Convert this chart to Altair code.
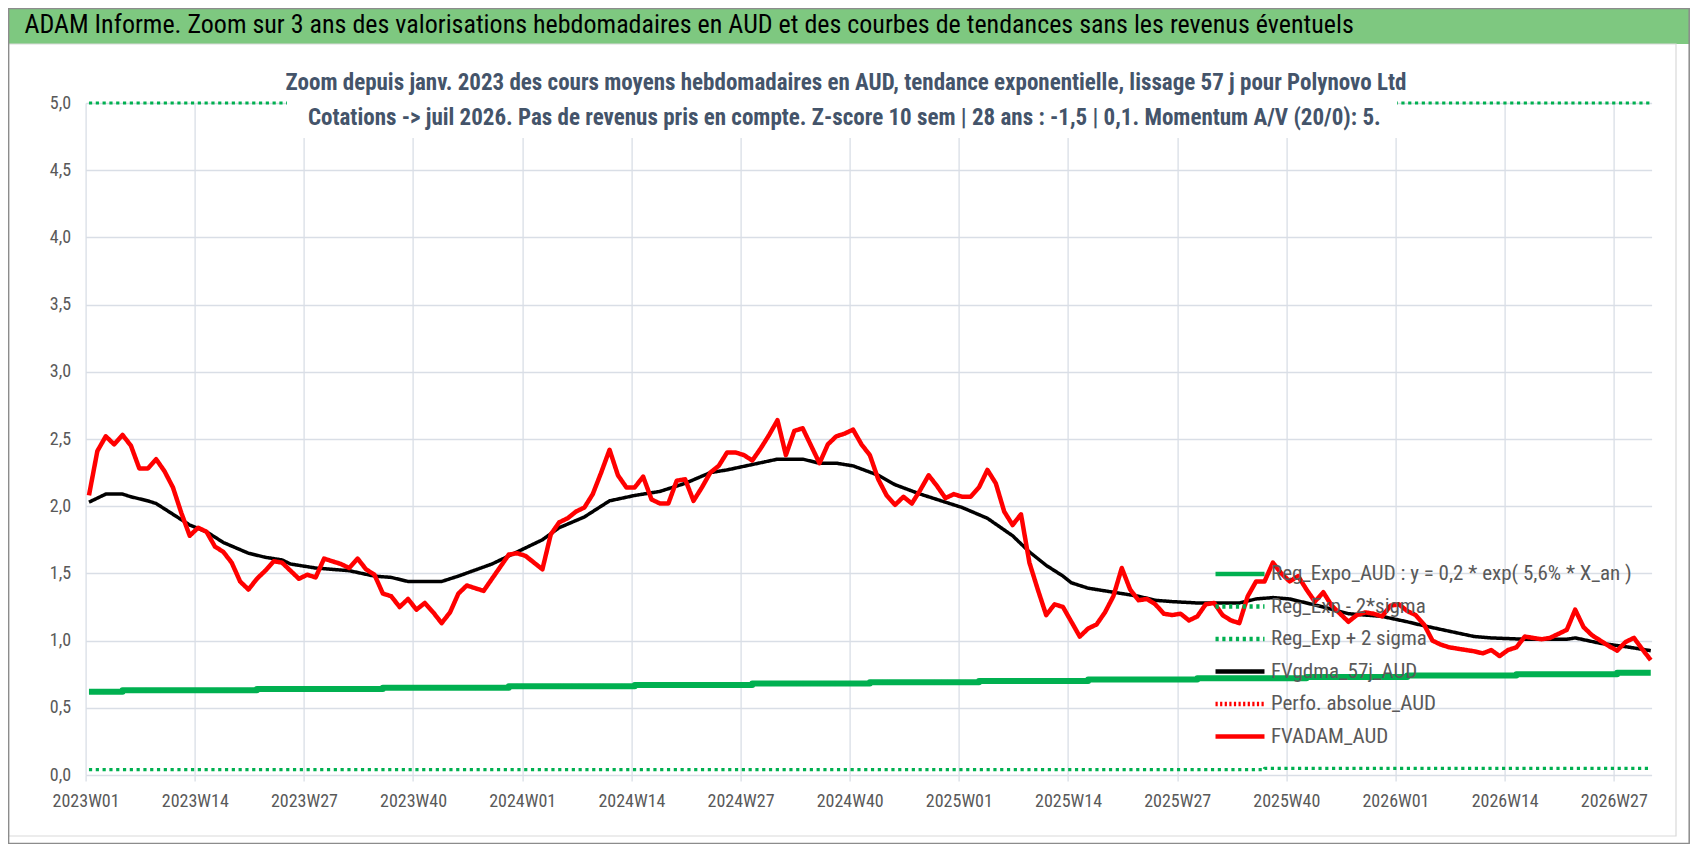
import json
import altair as alt
import pandas as pd

FONT = "Liberation Sans Narrow, Roboto Condensed, Arial Narrow, Roboto"

TITLE = "ADAM Informe. Zoom sur 3 ans des valorisations hebdomadaires en AUD et des courbes de tendances sans les revenus éventuels"
SUB1 = "Zoom depuis janv. 2023 des cours moyens hebdomadaires en AUD, tendance exponentielle, lissage 57 j pour Polynovo Ltd"
SUB2 = "Cotations -> juil 2026. Pas de revenus pris en compte. Z-score 10 sem | 28 ans : -1,5 | 0,1. Momentum A/V (20/0): 5."

tick_labels = ["2023W01", "2023W14", "2023W27", "2023W40", "2024W01", "2024W14", "2024W27",
               "2024W40", "2025W01", "2025W14", "2025W27", "2025W40", "2026W01", "2026W14", "2026W27"]
tick_index = [0, 13, 26, 39, 52, 65, 78, 91, 104, 117, 130, 143, 156, 169, 182]

series_names = ["Reg_Expo_AUD : y = 0,2 * exp( 5,6% *  X_an )", "Reg_Exp - 2*sigma", "Reg_Exp + 2 sigma",
                "FVgdma_57j_AUD", "Perfo. absolue_AUD", "FVADAM_AUD"]
series_colors = ["#00B050", "#00B050", "#00B050", "#000000", "#FF0000", "#FF0000"]
series_dash = [[1, 0], [3.2, 3.6], [3.2, 3.6], [1, 0], [2.2, 2.4], [1, 0]]

# FVADAM_AUD weekly values (week index 0 = 2023W01)
fvadam = [
    2.08, 2.41, 2.52, 2.46, 2.53, 2.45, 2.28, 2.28, 2.35, 2.26,
    2.14, 1.95, 1.78, 1.84, 1.81, 1.70, 1.66, 1.58, 1.44, 1.38,
    1.46, 1.52, 1.59, 1.58, 1.52, 1.46, 1.49, 1.47, 1.61, 1.59,
    1.57, 1.54, 1.61, 1.53, 1.49, 1.35, 1.33, 1.25, 1.31, 1.23,
    1.28, 1.21, 1.13, 1.21, 1.35, 1.41, 1.39, 1.37, 1.46, 1.55,
    1.64, 1.65, 1.63, 1.58, 1.53, 1.79, 1.88, 1.91, 1.96, 1.99,
    2.09, 2.25, 2.42, 2.23, 2.14, 2.14, 2.22, 2.05, 2.02, 2.02,
    2.19, 2.20, 2.04, 2.14, 2.25, 2.30, 2.40, 2.40, 2.38, 2.34,
    2.43, 2.53, 2.64, 2.38, 2.56, 2.58, 2.45, 2.32, 2.46, 2.52,
    2.54, 2.57, 2.46, 2.38, 2.20, 2.08, 2.01, 2.07, 2.02, 2.12,
    2.23, 2.15, 2.06, 2.09, 2.07, 2.07, 2.14, 2.27, 2.17, 1.96,
    1.86, 1.94, 1.58, 1.38, 1.19, 1.27, 1.25, 1.14, 1.03, 1.09,
    1.12, 1.21, 1.33, 1.54, 1.38, 1.30, 1.31, 1.27, 1.20, 1.19,
    1.20, 1.15, 1.18, 1.27, 1.28, 1.19, 1.15, 1.13, 1.33, 1.44,
    1.44, 1.58, 1.50, 1.44, 1.48, 1.38, 1.29, 1.36, 1.26, 1.20,
    1.14, 1.19, 1.21, 1.20, 1.18, 1.26, 1.27, 1.22, 1.19, 1.12,
    1.00, 0.97, 0.95, 0.94, 0.93, 0.92, 0.905, 0.93, 0.885, 0.93,
    0.95, 1.03, 1.02, 1.01, 1.02, 1.05, 1.08, 1.23, 1.10, 1.04,
    1.00, 0.96, 0.925, 0.99, 1.02, 0.935, 0.855,
]

# FVgdma_57j_AUD (smoothed), read at knots
gdma_idx = [0, 2, 4, 5, 7, 8, 10, 12, 14, 16, 19, 21, 23, 24, 27, 31, 34, 36, 38, 42,
            44, 48, 51, 54, 56, 59, 62, 65, 68, 71, 74, 76, 79, 82, 85, 87, 89, 91, 94, 96,
            99, 102, 104, 107, 110, 112, 114, 116, 117, 119, 120, 122, 123, 125, 127, 129, 132, 134, 137, 139,
            141, 143, 145, 147, 150, 154, 157, 159, 162, 165, 167, 171, 176, 177, 180, 183, 186]
gdma_val = [2.03, 2.09, 2.09, 2.07, 2.04, 2.02, 1.94, 1.86, 1.81, 1.73, 1.65, 1.62, 1.60, 1.57, 1.54, 1.52, 1.48, 1.47, 1.44, 1.44,
            1.48, 1.57, 1.66, 1.75, 1.84, 1.92, 2.04, 2.08, 2.11, 2.17, 2.25, 2.27, 2.31, 2.35, 2.35, 2.32, 2.32, 2.30, 2.23, 2.16,
            2.09, 2.03, 1.99, 1.91, 1.78, 1.66, 1.56, 1.48, 1.43, 1.39, 1.38, 1.36, 1.35, 1.33, 1.30, 1.29, 1.28, 1.28, 1.28, 1.31,
            1.32, 1.31, 1.28, 1.25, 1.20, 1.18, 1.14, 1.11, 1.07, 1.03, 1.02, 1.01, 1.01, 1.02, 0.98, 0.955, 0.925]

# Reg_Expo_AUD (rounded values, stepped)
reg_idx = [0, 4, 20, 35, 50, 65, 79, 93, 106, 119, 132, 145, 157, 170, 182, 186]
reg_val = [0.62, 0.63, 0.64, 0.65, 0.66, 0.67, 0.68, 0.69, 0.70, 0.71, 0.72, 0.73, 0.74, 0.75, 0.76, 0.76]

# Reg_Exp -/+ 2 sigma
low_idx = [0, 140, 186]
low_val = [0.04, 0.05, 0.05]
up_idx = [0, 186]
up_val = [5.0, 5.0]

GRID = "#D9DEE6"
LABEL = "#595959"

x_enc = alt.X(
    "i:Q",
    scale=alt.Scale(domain=[-0.4, 186.1], nice=False, zero=False),
    axis=alt.Axis(
        values=[round(t - 0.4, 1) for t in tick_index],
        labelExpr=f"{json.dumps(tick_labels)}[round((datum.value + 0.4) / 13)]",
        grid=True, gridColor=GRID, gridWidth=1.3, domain=False,
        ticks=True, tickColor=GRID, tickSize=6, tickWidth=1.3,
        labelPadding=11, labelFont=FONT, labelFontSize=18, labelColor=LABEL,
        labelFlush=False, labelOverlap=False, title=None,
    ),
)
y_enc = alt.Y(
    "v:Q",
    scale=alt.Scale(domain=[0, 5], nice=False, zero=True),
    axis=alt.Axis(
        values=[0, 0.5, 1, 1.5, 2, 2.5, 3, 3.5, 4, 4.5, 5],
        labelExpr="replace(format(datum.value, '.1f'), '.', ',')",
        grid=True, gridColor=GRID, gridWidth=1.3, domain=False, ticks=False,
        labelPadding=15, labelFont=FONT, labelFontSize=18, labelColor=LABEL, title=None,
    ),
)

leg = alt.Legend(
    title=None, orient="none", legendX=1127.4, legendY=458,
    symbolType="stroke", symbolSize=2400, clipHeight=26, rowPadding=6.5,
    labelFont=FONT, labelFontSize=21, labelColor=LABEL, labelOffset=4, labelLimit=600,
    padding=0, symbolStrokeWidth=4.5,
)
color_enc = alt.Color("s:N", scale=alt.Scale(domain=series_names, range=series_colors), legend=leg)
dash_enc = alt.StrokeDash("s:N", scale=alt.Scale(domain=series_names, range=series_dash), legend=leg)


def series_layer(idx, vals, name, width, interp="linear"):
    df = pd.DataFrame({"i": idx, "v": vals, "s": name})
    return alt.Chart(df).mark_line(strokeWidth=width, interpolate=interp, strokeJoin="round").encode(
        x=x_enc, y=y_enc, color=color_enc, strokeDash=dash_enc
    )


one = pd.DataFrame({"a": [0]})


def box(x1, x2, y1, y2, **kw):
    return alt.Chart(one).mark_rect(**kw).encode(
        x=alt.value(x1), x2=alt.value(x2), y=alt.value(y1), y2=alt.value(y2)
    )


def label(txt, x, y, **kw):
    return alt.Chart(one).mark_text(**kw).encode(x=alt.value(x), y=alt.value(y), text=alt.value(txt))


layers = [
    series_layer(reg_idx, reg_val, series_names[0], 6, "step-after"),
    series_layer(low_idx, low_val, series_names[1], 3.2, "step-after"),
    series_layer(up_idx, up_val, series_names[2], 3.2),
    series_layer(gdma_idx, gdma_val, series_names[3], 3.5),
    series_layer(list(range(len(fvadam))), fvadam, series_names[5], 4.5),
    # subtitle box
    box(201.4, 1311.4, -43, 35, fill="white"),
    label(SUB1, 760.4, -13.5, align="center", baseline="alphabetic", font=FONT,
          fontSize=23, fontWeight="bold", color="#44546A"),
    label(SUB2, 758.7, 22, align="center", baseline="alphabetic", font=FONT,
          fontSize=23, fontWeight="bold", color="#44546A"),
    # title band
    box(-77.6, 1604.4, -95, -59, fill="#7EC880"),
    label(TITLE, -61.2, -78, align="left", baseline="middle", font=FONT,
          fontSize=26, color="#000000"),
    # chart area frames
    box(-77, 1590.4, -59, 733, filled=False, stroke="#D9D9D9", strokeWidth=1.2),
    box(-77, 1603.6, -94.4, 740.4, filled=False, stroke="#8C8C8C", strokeWidth=1.5),
]

chart = alt.layer(*layers).properties(
    width=1566,
    height=672,
    padding={"left": 77.6, "top": 95, "right": 38.4, "bottom": 69},
    autosize=alt.AutoSizeParams(type="none"),
    background="white",
).configure_view(strokeWidth=0)

chart.save("out.html", embed_options={"renderer": "svg", "actions": False})
